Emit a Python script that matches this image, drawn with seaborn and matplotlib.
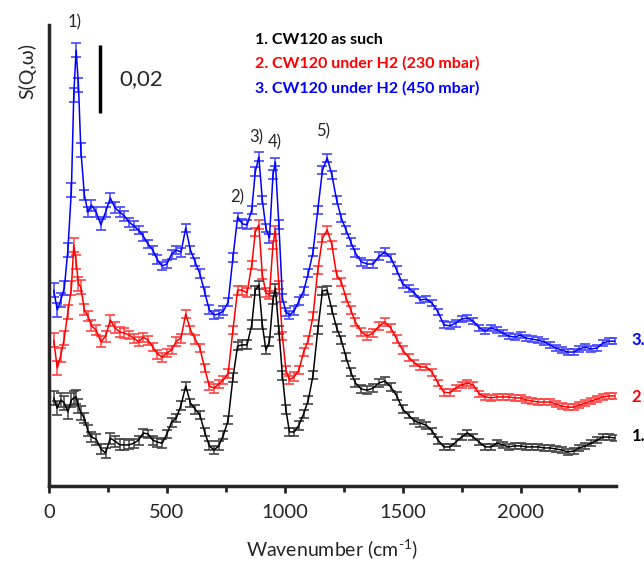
import numpy as np
import pandas as pd
import seaborn as sns
from matplotlib import pyplot as plt

# wavenumber grid (cm-1)
wavenumber = [
    20, 35, 50, 65, 80, 95, 105, 115, 125, 135,
    150, 165, 180, 200, 220, 240, 260, 280, 300, 320,
    340, 360, 380, 400, 420, 440, 460, 480, 500, 520,
    540, 560, 580, 600, 620, 640, 660, 680, 700, 720,
    740, 760, 780, 800, 820, 840, 860, 875, 890, 905,
    920, 935, 950, 960, 975, 990, 1005, 1020, 1040, 1060,
    1080, 1100, 1120, 1140, 1160, 1180, 1200, 1220, 1240, 1260,
    1280, 1300, 1325, 1350, 1375, 1400, 1425, 1450, 1475, 1500,
    1525, 1550, 1575, 1600, 1625, 1650, 1675, 1700, 1725, 1750,
    1775, 1800, 1825, 1850, 1875, 1900, 1925, 1950, 1975, 2000,
    2025, 2050, 2075, 2100, 2125, 2150, 2175, 2200, 2225, 2250,
    2275, 2300, 2325, 2350, 2375, 2400,
]

# 1. CW120 as such
s_as_such = [
    0.0259, 0.0229, 0.0253, 0.0244, 0.0218, 0.0253, 0.0259, 0.0262, 0.0235, 0.0215,
    0.0200, 0.0162, 0.0144, 0.0138, 0.0109, 0.0097, 0.0141, 0.0132, 0.0121, 0.0121,
    0.0121, 0.0126, 0.0135, 0.0156, 0.0153, 0.0135, 0.0129, 0.0126, 0.0153, 0.0188,
    0.0200, 0.0238, 0.0294, 0.0244, 0.0226, 0.0209, 0.0159, 0.0118, 0.0106, 0.0118,
    0.0150, 0.0194, 0.0318, 0.0412, 0.0415, 0.0415, 0.0474, 0.0576, 0.0591, 0.0474,
    0.0400, 0.0424, 0.0547, 0.0582, 0.0459, 0.0326, 0.0224, 0.0159, 0.0159, 0.0179,
    0.0212, 0.0253, 0.0326, 0.0459, 0.0574, 0.0576, 0.0518, 0.0465, 0.0429, 0.0379,
    0.0335, 0.0303, 0.0285, 0.0282, 0.0288, 0.0303, 0.0309, 0.0291, 0.0265, 0.0226,
    0.0209, 0.0191, 0.0185, 0.0179, 0.0162, 0.0135, 0.0115, 0.0115, 0.0129, 0.0144,
    0.0156, 0.0144, 0.0129, 0.0115, 0.0115, 0.0126, 0.0121, 0.0115, 0.0118, 0.0118,
    0.0115, 0.0115, 0.0115, 0.0112, 0.0112, 0.0109, 0.0106, 0.0100, 0.0103, 0.0112,
    0.0118, 0.0126, 0.0135, 0.0144, 0.0144, 0.0141,
]

# 2. CW120 under H2 (230 mbar)
s_h2_230 = [
    0.0429, 0.0347, 0.0385, 0.0435, 0.0512, 0.0582, 0.0709, 0.0659, 0.0594, 0.0585,
    0.0518, 0.0500, 0.0471, 0.0459, 0.0424, 0.0441, 0.0488, 0.0465, 0.0453, 0.0450,
    0.0444, 0.0435, 0.0424, 0.0438, 0.0429, 0.0409, 0.0388, 0.0379, 0.0391, 0.0400,
    0.0426, 0.0435, 0.0506, 0.0459, 0.0432, 0.0406, 0.0347, 0.0294, 0.0288, 0.0300,
    0.0312, 0.0332, 0.0459, 0.0576, 0.0576, 0.0568, 0.0650, 0.0747, 0.0768, 0.0621,
    0.0568, 0.0562, 0.0709, 0.0753, 0.0591, 0.0441, 0.0341, 0.0312, 0.0321, 0.0341,
    0.0394, 0.0429, 0.0500, 0.0635, 0.0729, 0.0753, 0.0709, 0.0621, 0.0600, 0.0553,
    0.0518, 0.0482, 0.0453, 0.0441, 0.0450, 0.0471, 0.0482, 0.0465, 0.0432, 0.0400,
    0.0379, 0.0362, 0.0350, 0.0350, 0.0335, 0.0303, 0.0276, 0.0274, 0.0288, 0.0297,
    0.0303, 0.0297, 0.0271, 0.0262, 0.0259, 0.0262, 0.0262, 0.0262, 0.0259, 0.0259,
    0.0253, 0.0250, 0.0247, 0.0247, 0.0247, 0.0241, 0.0235, 0.0232, 0.0232, 0.0238,
    0.0244, 0.0250, 0.0256, 0.0262, 0.0265, 0.0265,
]

# 3. CW120 under H2 (450 mbar)
s_h2_450 = [
    0.0576, 0.0518, 0.0547, 0.0582, 0.0694, 0.0871, 0.1150, 0.1282, 0.1179, 0.0988,
    0.0856, 0.0806, 0.0826, 0.0806, 0.0768, 0.0806, 0.0847, 0.0818, 0.0806, 0.0794,
    0.0776, 0.0765, 0.0753, 0.0735, 0.0712, 0.0694, 0.0665, 0.0647, 0.0653, 0.0682,
    0.0694, 0.0688, 0.0759, 0.0694, 0.0659, 0.0624, 0.0571, 0.0518, 0.0503, 0.0506,
    0.0515, 0.0541, 0.0671, 0.0791, 0.0771, 0.0768, 0.0812, 0.0924, 0.0968, 0.0841,
    0.0759, 0.0729, 0.0915, 0.0953, 0.0768, 0.0553, 0.0512, 0.0503, 0.0515, 0.0544,
    0.0574, 0.0626, 0.0688, 0.0812, 0.0929, 0.0965, 0.0915, 0.0841, 0.0788, 0.0753,
    0.0718, 0.0685, 0.0659, 0.0653, 0.0653, 0.0676, 0.0688, 0.0671, 0.0635, 0.0594,
    0.0582, 0.0568, 0.0547, 0.0550, 0.0538, 0.0512, 0.0474, 0.0471, 0.0479, 0.0491,
    0.0494, 0.0485, 0.0465, 0.0456, 0.0465, 0.0459, 0.0450, 0.0441, 0.0438, 0.0444,
    0.0435, 0.0432, 0.0429, 0.0424, 0.0415, 0.0406, 0.0400, 0.0394, 0.0394, 0.0403,
    0.0409, 0.0403, 0.0406, 0.0421, 0.0426, 0.0426,
]

# error bars (same for every series)
s_err = [
    0.0020, 0.0020, 0.0020, 0.0020, 0.0020, 0.0020, 0.0020, 0.0020, 0.0020, 0.0020,
    0.0016, 0.0016, 0.0016, 0.0016, 0.0016, 0.0016, 0.0016, 0.0016, 0.0016, 0.0016,
    0.0013, 0.0013, 0.0013, 0.0013, 0.0013, 0.0013, 0.0013, 0.0013, 0.0013, 0.0013,
    0.0013, 0.0013, 0.0013, 0.0013, 0.0013, 0.0013, 0.0013, 0.0013, 0.0013, 0.0013,
    0.0013, 0.0013, 0.0013, 0.0013, 0.0013, 0.0013, 0.0013, 0.0013, 0.0013, 0.0013,
    0.0013, 0.0013, 0.0013, 0.0013, 0.0013, 0.0013, 0.0013, 0.0013, 0.0013, 0.0013,
    0.0012, 0.0012, 0.0012, 0.0012, 0.0012, 0.0012, 0.0012, 0.0012, 0.0012, 0.0012,
    0.0011, 0.0011, 0.0011, 0.0011, 0.0011, 0.0011, 0.0011, 0.0011, 0.0011, 0.0011,
    0.0010, 0.0010, 0.0010, 0.0010, 0.0010, 0.0010, 0.0010, 0.0010, 0.0010, 0.0010,
    0.0009, 0.0009, 0.0009, 0.0009, 0.0009, 0.0009, 0.0009, 0.0009, 0.0009, 0.0009,
    0.0009, 0.0009, 0.0009, 0.0009, 0.0009, 0.0009, 0.0009, 0.0009, 0.0009, 0.0009,
    0.0009, 0.0009, 0.0009, 0.0009, 0.0009, 0.0009,
]

series_names = ["1. CW120 as such", "2. CW120 under H2 (230 mbar)", "3. CW120 under H2 (450 mbar)"]
series_values = [s_as_such, s_h2_230, s_h2_450]
series_colors = ["#000000", "#ff0000", "#0000ff"]
cap_colors = ["#444444", "#ff4444", "#4444ff"]
end_labels = ["1.", "2", "3."]
peak_labels = ["1)", "2)", "3)", "4)", "5)"]
peak_pos = [(107, 0.1365), (797, 0.0850), (878, 0.1026), (959, 0.1012), (1164, 0.1044)]

sns.set_style("ticks")
plt.rcParams["font.family"] = ["Lato", "DejaVu Sans"]
plt.rcParams["mathtext.fontset"] = "custom"
plt.rcParams["mathtext.rm"] = "Lato"

rows = []
for name, vals in zip(series_names, series_values):
    for x, y, e in zip(wavenumber, vals, s_err):
        rows.append({"wavenumber": x, "S": y, "err": e, "sample": name})
df = pd.DataFrame(rows)

fig = plt.figure(figsize=(6.44, 5.65), dpi=100)
ax = fig.add_axes([0.0761, 0.1398, 0.8804, 0.816])

sns.lineplot(data=df, x="wavenumber", y="S", hue="sample", palette=series_colors,
             hue_order=series_names, lw=1.1, legend=False, ax=ax, zorder=3)
for name, col in zip(series_names, cap_colors):
    d = df[df["sample"] == name]
    ax.errorbar(d["wavenumber"], d["S"], yerr=d["err"], fmt="none", ecolor=col,
                elinewidth=1.1, capsize=3.8, capthick=1.2, zorder=2)

ax.set_xlim(0, 2405)
ax.set_ylim(0, 0.1356)
ax.set_xticks([0, 500, 1000, 1500, 2000])
ax.set_xticks([250, 750, 1250, 1750, 2250], minor=True)
ax.set_yticks([])
ax.tick_params(axis="x", which="major", length=5, width=2, labelsize=14.5, direction="out", pad=8)
ax.tick_params(axis="x", which="minor", length=4, width=2, direction="out")
for side in ["top", "right"]:
    ax.spines[side].set_visible(False)
for side in ["left", "bottom"]:
    ax.spines[side].set_linewidth(2.5)

ax.set_xlabel("Wavenumber (cm$^{\\text{-1}}$)", fontsize=14, labelpad=12)
ax.set_ylabel("")
fig.text(0.043, 0.875, "S(Q,\u03c9)", rotation=90, fontsize=14, ha="center", va="center")

# scale bar
ax.plot([217, 217], [0.1097, 0.1297], color="black", lw=2.5, solid_capstyle="butt")
ax.text(300, 0.1197, "0,02", fontsize=16, va="center", ha="left")

for lab, (px, py) in zip(peak_labels, peak_pos):
    ax.text(px, py, lab, fontsize=12, ha="center", va="center", clip_on=False)

legend_y = [0.929, 0.888, 0.844]
for name, col, ly in zip(series_names, series_colors, legend_y):
    fig.text(0.396, ly, name, color=col, fontsize=11.5, fontweight="bold", va="center")

end_y = [0.228, 0.297, 0.398]
for lab, col, ly in zip(end_labels, series_colors, end_y):
    fig.text(0.981, ly, lab, color=col, fontsize=12, fontweight="bold", va="center")

fig.savefig("out.png", dpi=100)
